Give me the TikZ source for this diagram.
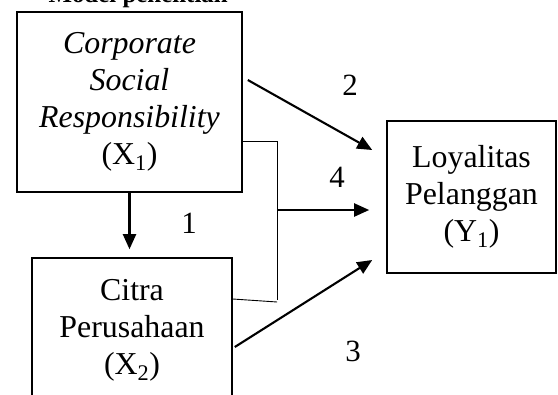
\documentclass[tikz,border=0pt]{standalone}
\usepackage{fontspec}
\setmainfont{Liberation Serif}
\usetikzlibrary{arrows.meta,calc}

\begin{document}
\begin{tikzpicture}[x=1bp,y=-1bp,>={Triangle[length=15bp,width=13bp]},
		box/.style={draw,line width=1.6bp,align=center,inner sep=0pt,font=\fontsize{32}{37}\selectfont},
		bigarrow/.style={->,line width=2.1bp},
		joinline/.style={line width=0.9bp},
		num/.style={anchor=base,font=\fontsize{31}{37}\selectfont}]
		\useasboundingbox (0,0) rectangle (558,394);
		\clip (0,0) rectangle (558,394);
		\node[anchor=base west,font=\bfseries\fontsize{25}{30}\selectfont] (title) at (45,2) {Model penelitian};
		\node[box,minimum width=225bp,minimum height=180bp] (x1) at (129.5,102) {\textit{Corporate}\\\textit{Social}\\\textit{Responsibility}\\(X\textsubscript{1})};
		\node[box,minimum width=200bp,minimum height=144bp] (x2) at (132,330) {Citra\\Perusahaan\\(X\textsubscript{2})};
		\node[box,minimum width=169bp,minimum height=152bp] (y1) at (471.5,197) {Loyalitas\\Pelanggan\\(Y\textsubscript{1})};
		\node[num] (n1) at (189,233) {1};
		\node[num] (n2) at (350,95) {2};
		\node[num] (n3) at (353,361) {3};
		\node[num] (n4) at (337,187) {4};
		\coordinate (j) at ($(y1.west)+(-109,13)$);
		\draw[bigarrow,shorten >=8bp] (x1.south) -- (x1.south |- x2.north);
		\draw[bigarrow] ($(x1.east)+(5,-22)$) -- ($(y1.west)+(-14,-47)$);
		\draw[bigarrow] ($(x2.east)+(2,17)$) -- ($(y1.west)+(-14,63)$);
		\draw[joinline] ($(x1.east)+(0,39)$) -| ($(j)+(0,90)$);
		\draw[joinline] ($(x2.east)+(0,-31)$) -- ($(j)+(0,92)$);
		\draw[bigarrow] (j) -- ($(y1.west)+(-17,13)$);
	\end{tikzpicture}
\end{document}
